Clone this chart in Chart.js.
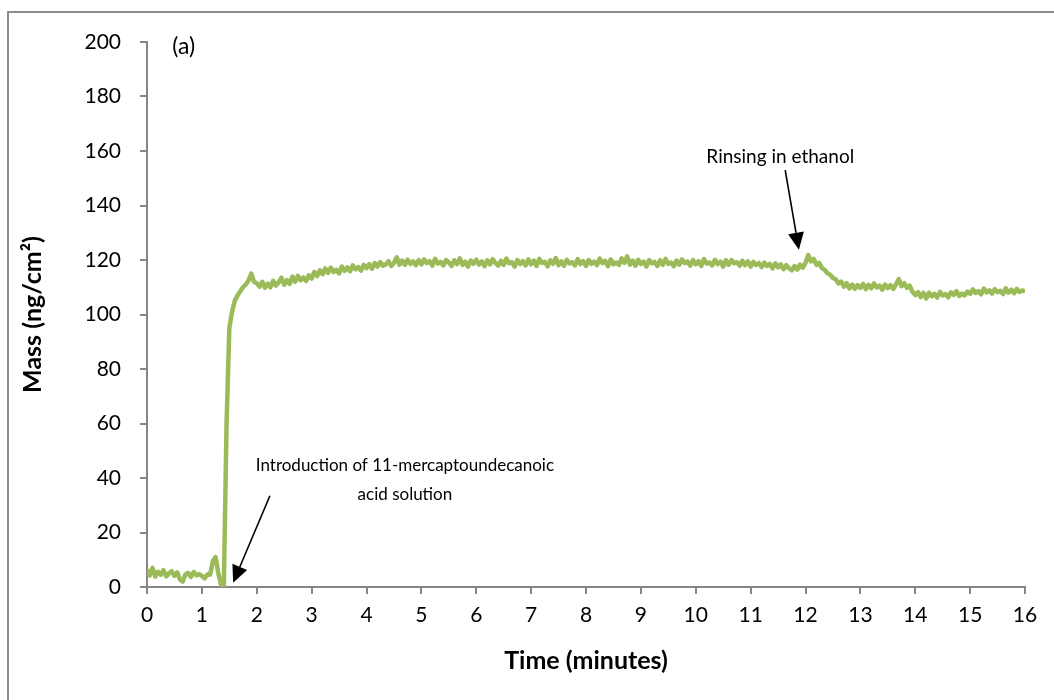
<!DOCTYPE html>
<html>
<head>
<meta charset="utf-8">
<script src="https://cdn.jsdelivr.net/npm/chart.js@4.4.1/dist/chart.umd.min.js"></script>
<style>
  html, body { margin: 0; padding: 0; background: #fff; width: 1054px; height: 700px; overflow: hidden; }
  #frame { position: absolute; left: 7px; top: 11px; width: 1100px; height: 800px; border: 2px solid #8c8c8c; }
  #wrap { position: absolute; left: 0; top: 0; width: 1054px; height: 700px; }
</style>
</head>
<body>
<div id="frame"></div>
<div id="wrap"><canvas id="chart" width="1054" height="700"></canvas></div>
<script>
// sampling of the trace (minutes)
const tStart = 0;
const tStep = 0.05;

// mass readings (ng/cm2), one row per minute, 20 samples each
const mass = [
  // 0
  6.5, 4.2, 7.0, 3.8, 5.6, 4.5, 6.2, 3.9, 5.0, 5.8, 4.1, 5.4, 2.8, 2.0, 4.6, 5.2, 3.7, 5.5, 4.3, 4.8,
  // 1
  4.0, 3.2, 4.6, 4.5, 9.5, 11.0, 5.0, 0.8, 0.3, 60, 95, 101, 105, 107, 108.5, 110, 111, 112.5, 115, 112,
  // 2
  111.5, 110.2, 112.0, 109.8, 111.3, 110.0, 112.4, 110.6, 111.8, 113.5, 110.9, 112.6, 111.2, 113.9, 112.0, 114.2, 112.5, 113.6, 112.3, 114.4,
  // 3
  113.2, 115.6, 114.1, 116.2, 114.8, 116.9, 115.3, 117.2, 115.6, 116.4, 115.1, 117.6, 116.0, 117.3, 115.9, 118.0, 116.6, 117.4, 116.1, 118.2,
  // 4
  117.0, 118.5, 116.8, 118.9, 117.6, 119.2, 117.9, 118.4, 119.6, 117.8, 118.9, 121.0, 118.3, 119.8, 118.2, 120.1, 118.6, 119.5, 118.1, 120.0,
  // 5
  118.4, 120.2, 118.9, 119.6, 117.9, 120.4, 118.7, 119.3, 118.0, 120.0, 119.1, 117.8, 119.9, 118.5, 120.6, 118.2, 119.4, 117.6, 119.8, 118.6,
  // 6
  120.1, 118.3, 119.5, 117.7, 119.9, 118.4, 120.3, 118.9, 117.9, 119.7, 118.2, 120.5, 118.8, 119.2, 117.6, 120.0, 118.5, 119.6, 118.0, 120.2,
  // 7
  118.4, 119.8, 117.8, 120.4, 118.9, 119.3, 117.7, 119.9, 118.6, 120.7, 118.1, 119.5, 117.9, 120.1, 118.7, 119.2, 118.0, 120.3, 118.5, 119.6,
  // 8
  117.8, 120.0, 118.6, 119.4, 118.1, 120.5, 118.9, 119.7, 117.7, 120.2, 118.4, 119.1, 118.2, 120.6, 119.0, 121.3, 118.3, 119.8, 117.9, 120.1,
  // 9
  118.5, 119.4, 117.6, 120.0, 118.8, 119.3, 117.8, 119.9, 118.2, 120.4, 118.6, 119.1, 117.7, 119.8, 118.3, 120.2, 118.9, 119.4, 117.9, 120.0,
  // 10
  118.4, 119.6, 117.8, 120.3, 118.7, 119.1, 118.0, 120.1, 118.5, 119.4, 117.6, 119.9, 118.2, 120.0, 118.8, 119.2, 117.9, 119.7, 118.1, 119.5,
  // 11
  117.6, 119.3, 118.2, 118.9, 117.4, 119.0, 117.8, 118.6, 116.9, 118.8, 117.3, 118.4, 116.6, 118.1, 117.0, 116.2, 117.8, 116.5, 118.3, 117.2,
  // 12
  118.9, 121.8, 119.5, 120.4, 118.2, 118.9, 117.0, 116.4, 115.1, 114.6, 113.4, 112.9, 111.4, 112.1, 110.2, 111.5, 109.6, 111.0, 109.4, 110.8,
  // 13
  109.8, 111.2, 109.3, 110.9, 109.6, 111.4, 109.9, 110.6, 109.1, 111.0, 109.7, 110.8, 109.4, 111.1, 113.0, 110.4, 111.5, 109.8, 110.6, 108.3,
  // 14
  107.1, 108.2, 106.4, 107.9, 105.9, 108.0, 106.7, 107.6, 106.2, 108.3, 107.0, 107.5, 106.3, 108.1, 107.2, 108.6, 106.8, 107.7, 107.0, 108.4,
  // 15
  107.6, 109.2, 107.9, 108.6, 107.4, 109.5, 108.1, 108.9, 107.7, 109.3, 108.2, 108.7, 107.5, 109.6, 108.0, 109.1, 107.8, 109.4, 108.3, 108.8,
  // 16
  108.5
];

// axis settings
const xMin = 0, xMax = 16, xStep = 1;
const yMin = 0, yMax = 200, yStep = 20;
const xTitle = 'Time (minutes)';
const yTitle = 'Mass (ng/cm²)';

// annotations in data units
const arrows = [
  { from: [2.24, 33.5], to: [1.57, 1.6] },
  { from: [11.63, 153.0], to: [11.88, 123.8] }
];
const notes = [
  { text: '(a)', x: 0.67, y: 198.5, size: 23 },
  { text: 'Introduction of 11-mercaptoundecanoic', x: 4.7, y: 44.4, size: 17 },
  { text: 'acid solution', x: 4.7, y: 33.8, size: 17 },
  { text: 'Rinsing in ethanol', x: 11.54, y: 157.8, size: 19 }
];

const points = mass.map((v, i) => ({ x: tStart + i * tStep, y: v }));

const FONT = 'Lato, "Open Sans", sans-serif';
const AXIS = '#868686';

const annotate = {
  id: 'annotate',
  afterDatasetsDraw(chart) {
    const ctx = chart.ctx;
    const xs = chart.scales.x, ys = chart.scales.y;
    ctx.save();
    ctx.strokeStyle = '#000';
    ctx.fillStyle = '#000';
    ctx.lineWidth = 1.6;
    arrows.forEach(a => {
      const x1 = xs.getPixelForValue(a.from[0]), y1 = ys.getPixelForValue(a.from[1]);
      const x2 = xs.getPixelForValue(a.to[0]), y2 = ys.getPixelForValue(a.to[1]);
      const ang = Math.atan2(y2 - y1, x2 - x1);
      const headLen = 17, headW = 8;
      const bx = x2 - headLen * Math.cos(ang), by = y2 - headLen * Math.sin(ang);
      ctx.beginPath();
      ctx.moveTo(x1, y1);
      ctx.lineTo(bx, by);
      ctx.stroke();
      ctx.beginPath();
      ctx.moveTo(x2, y2);
      ctx.lineTo(bx + headW * Math.sin(ang), by - headW * Math.cos(ang));
      ctx.lineTo(bx - headW * Math.sin(ang), by + headW * Math.cos(ang));
      ctx.closePath();
      ctx.fill();
    });
    ctx.textAlign = 'center';
    ctx.textBaseline = 'middle';
    notes.forEach(n => {
      ctx.font = n.size + 'px ' + FONT;
      ctx.fillText(n.text, xs.getPixelForValue(n.x), ys.getPixelForValue(n.y));
    });
    ctx.restore();
  }
};

new Chart(document.getElementById('chart'), {
  type: 'line',
  data: {
    datasets: [{
      label: 'Mass',
      data: points,
      borderColor: '#9BBB59',
      borderWidth: 4.5,
      borderJoinStyle: 'round',
      pointRadius: 0,
      tension: 0
    }]
  },
  options: {
    responsive: false,
    animation: false,
    layout: { padding: { top: 42, right: 29, left: 0, bottom: 0 } },
    plugins: {
      legend: { display: false },
      tooltip: { enabled: false }
    },
    scales: {
      x: {
        type: 'linear',
        min: xMin, max: xMax,
        afterFit(scale) { scale.height = 113; },
        ticks: { stepSize: xStep, color: '#000', font: { family: FONT, size: 21 }, padding: 9, maxRotation: 0 },
        grid: { drawOnChartArea: false, drawTicks: true, tickLength: 7, color: AXIS, lineWidth: 2 },
        border: { display: true, color: AXIS, width: 2 },
        title: { display: true, text: xTitle, color: '#000', font: { family: FONT, size: 25, weight: 'bold' }, padding: { bottom: 24 } }
      },
      y: {
        min: yMin, max: yMax,
        afterFit(scale) { scale.width = 147; },
        ticks: { stepSize: yStep, color: '#000', font: { family: FONT, size: 21 }, padding: 19 },
        grid: { drawOnChartArea: false, drawTicks: true, tickLength: 7, color: AXIS, lineWidth: 2 },
        border: { display: true, color: AXIS, width: 2 },
        title: { display: true, text: yTitle, color: '#000', font: { family: FONT, size: 25, weight: 'bold' }, padding: { top: 18 } }
      }
    }
  },
  plugins: [annotate]
});
</script>
</body>
</html>
